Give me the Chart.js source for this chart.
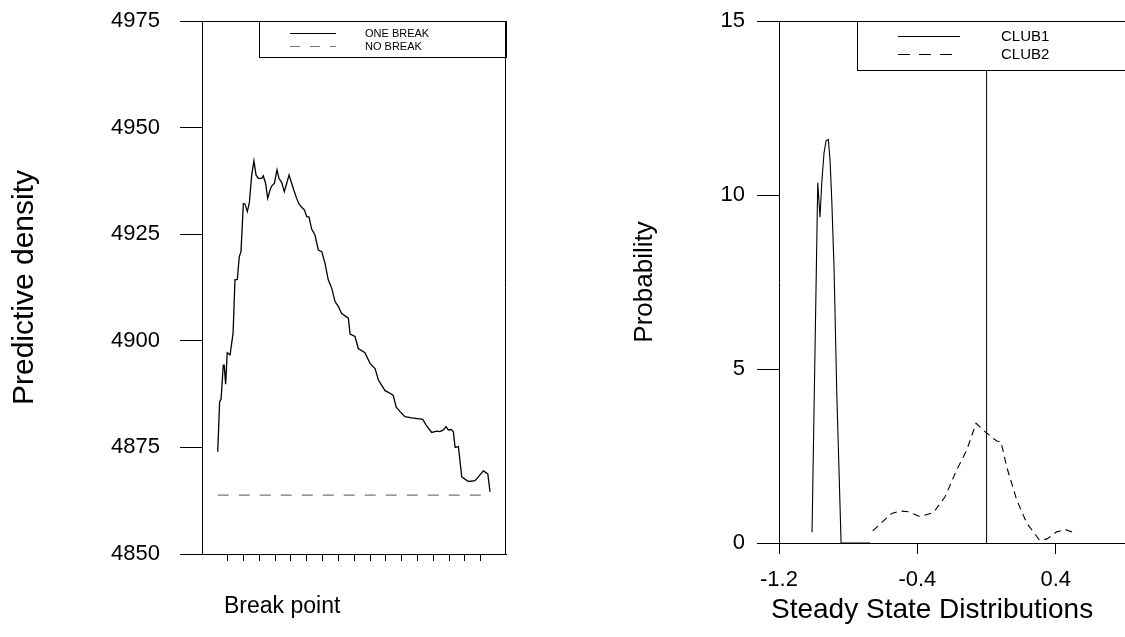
<!DOCTYPE html>
<html>
<head>
<meta charset="utf-8">
<title>Predictive density and steady state distributions</title>
<script src="https://cdn.jsdelivr.net/npm/chart.js@4.4.1/dist/chart.umd.min.js"></script>
<style>
  html, body { margin: 0; padding: 0; background: #fff; }
  #wrap { position: relative; width: 1125px; height: 637px; overflow: hidden; }
  #wrap canvas { position: absolute; top: 0; }
  #breakChart { left: 0; }
  #steadyChart { left: 560px; }
</style>
</head>
<body>
<div id="wrap">
  <canvas id="breakChart" width="560" height="637"></canvas>
  <canvas id="steadyChart" width="565" height="637"></canvas>
</div>
<script>
// ---- left panel: predictive density against break point ----
const breakX = [0.37, 0.49, 0.58, 0.72, 0.78, 0.87, 0.97, 1.15, 1.34, 1.46, 1.61, 1.73, 1.84, 1.99, 2.09,
  2.24, 2.37, 2.52, 2.66, 2.79, 2.94, 3.15, 3.25, 3.40, 3.53, 3.68, 3.78, 3.95, 4.12, 4.24, 4.42, 4.58,
  4.73, 4.88, 5.05, 5.21, 5.36, 5.51, 5.68, 5.85, 6.00, 6.14, 6.31, 6.52, 6.73, 6.95, 7.15, 7.36, 7.58,
  7.79, 8.00, 8.21, 8.63, 8.74, 9.05, 9.26, 9.68, 10.00, 10.32, 10.53, 10.95, 11.22, 11.47, 11.65, 11.90,
  12.21, 12.64, 13.33, 13.54, 13.90, 14.22, 14.43, 14.64, 14.81, 14.95, 15.12, 15.27, 15.38, 15.59, 15.80,
  16.22, 16.64, 16.85, 17.17, 17.45, 17.59];
const oneBreak = [4874.0, 4885.7, 4886.3, 4894.3, 4894.3, 4889.8, 4897.2, 4896.7, 4901.8, 4914.3, 4914.4,
  4919.7, 4920.9, 4932.2, 4932.1, 4930.3, 4932.4, 4938.9, 4942.2, 4938.9, 4938.1, 4938.1, 4938.7, 4936.9,
  4933.4, 4935.4, 4936.3, 4936.9, 4940.1, 4938.1, 4937.1, 4935.0, 4936.9, 4938.9, 4936.9, 4935.0, 4933.4,
  4932.1, 4931.3, 4930.7, 4929.1, 4929.0, 4926.2, 4924.8, 4921.3, 4920.9, 4918.2, 4914.3, 4912.3, 4909.2,
  4908.0, 4906.4, 4905.3, 4901.6, 4901.0, 4898.2, 4897.2, 4894.7, 4893.5, 4890.8, 4888.3, 4887.8, 4887.2,
  4884.5, 4883.4, 4882.2, 4881.9, 4881.6, 4880.3, 4878.5, 4878.8, 4878.7, 4879.1, 4879.9, 4879.1, 4879.2,
  4878.7, 4875.0, 4875.2, 4868.1, 4867.0, 4867.2, 4868.1, 4869.5, 4868.8, 4864.6];
const noBreakX = [0.37, 17.45];
const noBreak = [4863.8, 4863.8];
const breakTicks = [1, 2, 3, 4, 5, 6, 7, 8, 9, 10, 11, 12, 13, 14, 15, 16, 17];
const densityTicks = [4850, 4875, 4900, 4925, 4950, 4975];

// ---- right panel: steady state distributions ----
const club1X = [-1.009, -0.976, -0.963, -0.953, -0.940, -0.928, -0.915, -0.905, -0.895, -0.882, -0.866, -0.841, -0.674];
const club1 = [0.31, 10.35, 9.36, 10.34, 11.20, 11.56, 11.60, 11.01, 9.86, 7.94, 4.30, 0, 0];
const club2X = [-0.658, -0.549, -0.501, -0.453, -0.385, -0.308, -0.240, -0.173, -0.115, -0.061, -0.009,
  0.058, 0.083, 0.116, 0.174, 0.232, 0.305, 0.347, 0.405, 0.453, 0.498];
const club2 = [0.35, 0.85, 0.92, 0.90, 0.76, 0.87, 1.33, 2.10, 2.67, 3.44, 3.20, 2.93, 2.91, 2.19, 1.24,
  0.57, 0.09, 0.11, 0.32, 0.39, 0.31];
const zeroLineX = [0, 0];
const zeroLineY = [0, 15];
const steadyTicks = [-1.2, -0.4, 0.4];
const probTicks = [0, 5, 10, 15];

const FONT = "'Liberation Sans', Arial, Helvetica, sans-serif";
const pts = (xs, ys) => xs.map((x, i) => ({ x: x, y: ys[i] }));
const fixTicks = list => scale => { scale.ticks = list.map(v => ({ value: v })); };

// fixed axis size; drop the label overhang so the plot keeps its top/bottom
const fitY = w => s => { s.width = w; s.paddingTop = 0; s.paddingBottom = 0; };
const fitX = h => s => { s.height = h; s.paddingLeft = 0; s.paddingRight = 0; };

// box around the plot area (sides listed in options)
const framePlugin = {
    id: 'frame',
    afterDraw(chart, args, opts) {
        const { ctx, chartArea: a } = chart;
        ctx.save();
        ctx.strokeStyle = '#000';
        ctx.lineWidth = 1;
        ctx.beginPath();
        if (opts.sides.includes('top')) { ctx.moveTo(a.left, a.top + 0.5); ctx.lineTo(a.right, a.top + 0.5); }
        if (opts.sides.includes('right')) { ctx.moveTo(a.right - 0.5, a.top); ctx.lineTo(a.right - 0.5, a.bottom); }
        ctx.stroke();
        ctx.restore();
    }
};

// legend drawn as a framed box hanging from the top of the plot
const boxLegend = {
    id: 'boxLegend',
    afterDatasetsDraw(chart, args, o) {
        const { ctx, chartArea: a } = chart;
        const left = o.fromRight ? a.right - o.width : a.left + o.offset;
        const right = o.fromRight ? a.right : a.right + 4;
        ctx.save();
        ctx.fillStyle = '#fff';
        ctx.fillRect(left, a.top, right - left, o.height);
        ctx.strokeStyle = '#000';
        ctx.lineWidth = 1;
        ctx.strokeRect(Math.round(left) + 0.5, a.top + 0.5, right - left, o.height);
        ctx.font = o.fontSize + 'px ' + FONT;
        ctx.textBaseline = 'middle';
        ctx.textAlign = 'left';
        o.items.forEach((idx, i) => {
            const ds = chart.data.datasets[idx];
            const y = Math.round(a.top + o.rows[i]) + 0.5;
            ctx.strokeStyle = ds.borderColor;
            ctx.lineWidth = 1;
            ctx.setLineDash(o.dashes[i]);
            ctx.beginPath();
            ctx.moveTo(left + o.sample[0], y);
            ctx.lineTo(left + o.sample[1], y);
            ctx.stroke();
            ctx.setLineDash([]);
            ctx.fillStyle = '#000';
            ctx.fillText(ds.label, left + o.textX, y);
        });
        ctx.restore();
    }
};

// x axis caption, placed from the left edge of the plot
const captionPlugin = {
    id: 'caption',
    afterDraw(chart, args, o) {
        const { ctx, chartArea: a } = chart;
        ctx.save();
        ctx.font = o.size + 'px ' + FONT;
        ctx.fillStyle = '#000';
        ctx.textAlign = 'left';
        ctx.textBaseline = 'middle';
        ctx.fillText(o.text, a.left + o.dx, o.y);
        ctx.restore();
    }
};

const axisGrid = len => ({ drawOnChartArea: false, drawTicks: true, tickLength: len, color: '#000', lineWidth: 1 });
const axisBorder = { display: true, color: '#000', width: 1 };

new Chart(document.getElementById('breakChart'), {
    type: 'line',
    data: {
        datasets: [
            { label: 'ONE BREAK', data: pts(breakX, oneBreak), borderColor: '#000', borderWidth: 1.3 },
            { label: 'NO BREAK', data: pts(noBreakX, noBreak), borderColor: '#777', borderWidth: 1.4, borderDash: [11, 10] }
        ]
    },
    options: {
        responsive: false,
        animation: false,
        events: [],
        elements: { point: { radius: 0 }, line: { tension: 0 } },
        layout: { padding: { left: 0, top: 21, right: 54, bottom: 0 } },
        scales: {
            x: {
                type: 'linear', min: -0.625, max: 18.6,
                afterBuildTicks: fixTicks(breakTicks),
                afterFit: fitX(83),
                grid: axisGrid(7), border: axisBorder,
                ticks: { display: false }
            },
            y: {
                type: 'linear', min: 4850, max: 4975,
                afterBuildTicks: fixTicks(densityTicks),
                afterFit: fitY(202),
                grid: axisGrid(22), border: axisBorder,
                ticks: { padding: 20, color: '#000', font: { family: FONT, size: 22 }, callback: v => String(v) },
                title: { display: true, text: 'Predictive density', color: '#000',
                         font: { family: FONT, size: 30, lineHeight: 1 }, padding: { top: 10 } }
            }
        },
        plugins: {
            legend: { display: false },
            tooltip: { enabled: false },
            frame: { sides: ['top', 'right'] },
            boxLegend: { fromRight: true, width: 247, height: 36, items: [0, 1], rows: [12.3, 24.7],
                         sample: [31, 77], textX: 106, fontSize: 11, dashes: [[], [10, 10]] },
            caption: { text: 'Break point', dx: 22, y: 607, size: 23 }
        }
    },
    plugins: [framePlugin, boxLegend, captionPlugin]
});

new Chart(document.getElementById('steadyChart'), {
    type: 'line',
    data: {
        datasets: [
            { label: 'CLUB1', data: pts(club1X, club1), borderColor: '#000', borderWidth: 1.1 },
            { label: 'CLUB2', data: pts(club2X, club2), borderColor: '#000', borderWidth: 1.1, borderDash: [7, 5] },
            { label: '', data: pts(zeroLineX, zeroLineY), borderColor: '#000', borderWidth: 1 }
        ]
    },
    options: {
        responsive: false,
        animation: false,
        events: [],
        elements: { point: { radius: 0 }, line: { tension: 0 } },
        layout: { padding: { left: 0, top: 21, right: 0, bottom: 0 } },
        scales: {
            x: {
                type: 'linear', min: -1.2, max: 0.8,
                afterBuildTicks: fixTicks(steadyTicks),
                afterFit: fitX(94),
                grid: axisGrid(11), border: axisBorder,
                ticks: { padding: 13, color: '#000', font: { family: FONT, size: 22 },
                         callback: v => v.toFixed(1) }
            },
            y: {
                type: 'linear', min: 0, max: 15,
                afterBuildTicks: fixTicks(probTicks),
                afterFit: fitY(219),
                grid: axisGrid(22), border: axisBorder,
                ticks: { padding: 12, color: '#000', font: { family: FONT, size: 22 }, callback: v => String(v) },
                title: { display: true, text: 'Probability', color: '#000',
                         font: { family: FONT, size: 26, lineHeight: 1 }, padding: { top: 72 } }
            }
        },
        plugins: {
            legend: { display: false },
            tooltip: { enabled: false },
            frame: { sides: ['top'] },
            boxLegend: { fromRight: false, offset: 78, height: 49, items: [0, 1], rows: [14.7, 33.3],
                         sample: [41, 103], textX: 144, fontSize: 15, dashes: [[], [12, 9]] },
            caption: { text: 'Steady State Distributions', dx: -8, y: 610, size: 28 }
        }
    },
    plugins: [framePlugin, boxLegend, captionPlugin]
});
</script>
</body>
</html>
